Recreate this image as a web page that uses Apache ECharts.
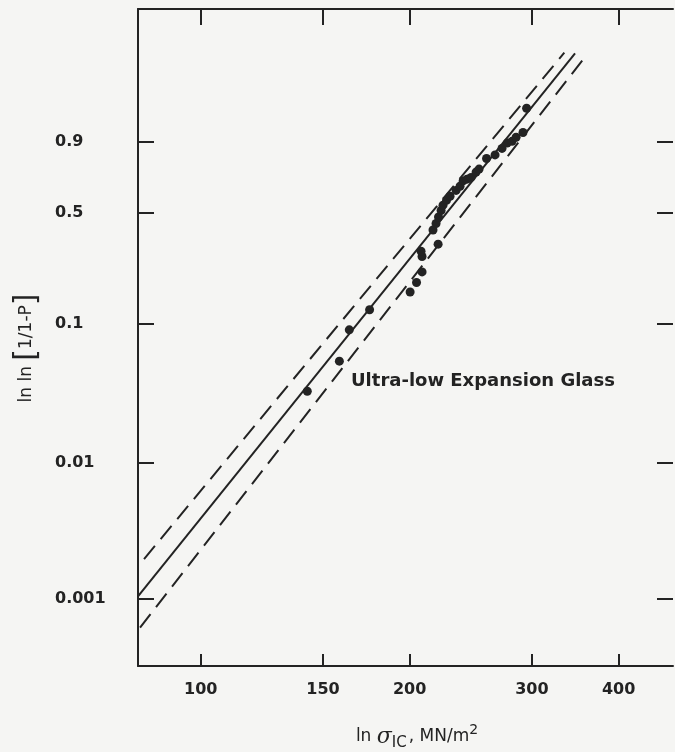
<!DOCTYPE html>
<html><head><meta charset="utf-8">
<script src="https://cdn.jsdelivr.net/npm/echarts@6/dist/echarts.min.js"></script>
<style>html,body{margin:0;padding:0;background:#f5f5f3;} #c{width:675px;height:752px;}</style>
</head><body><div id="c"></div>
<script>
// Fracture stress of each specimen, MN/m^2
const stress = [142.4,158.4,163.7,175.1,200.3,204.6,208.4,208.4,207.7,219.8,216.1,218.3,220.1,222.0,223.4,226.0,228.7,233.3,236.4,238.8,241.9,245.2,249.3,251.8,258.1,265.5,271.7,276.3,280.9,284.7,291.3,294.8];
// ln ln[1/(1-P)] of each specimen
const lnlnP = [-3.39,-2.88,-2.35,-2.01,-1.71,-1.55,-1.37,-1.11,-1.02,-0.90,-0.66,-0.55,-0.44,-0.33,-0.24,-0.16,-0.09,0.01,0.08,0.17,0.20,0.23,0.32,0.37,0.55,0.61,0.72,0.81,0.84,0.91,0.99,1.40];
// Fitted line and its two bounds (end points)
const fitStress = [81.2, 346.2];   const fitY = [-6.86, 2.33];
const upperStress = [82.85, 334.1]; const upperY = [-6.23, 2.34];
const lowerStress = [81.76, 354.7]; const lowerY = [-7.39, 2.21];
// Tick labels
const xTickStress = [100, 150, 200, 300, 400];
const yTickP = [0.9, 0.5, 0.1, 0.01, 0.001];

const toY = p => Math.log(-Math.log(1 - p));
const xTicks = xTickStress.map(v => Math.log(v));
const yTicks = yTickP.map(toY);
const pairs = (xs, ys) => xs.map((x, i) => [Math.log(x), ys[i]]);
const nearest = (arr, v) => { let b = 0; arr.forEach((a, i) => { if (Math.abs(a - v) < Math.abs(arr[b] - v)) b = i; }); return b; };

const ink = '#232323';
const font = 'DejaVu Sans';
const chart = echarts.init(document.getElementById('c'));
chart.setOption({
  backgroundColor: '#f5f5f3',
  animation: false,
  grid: { left: 138, right: 2, top: 9, bottom: 86 },
  xAxis: [{
    type: 'value', min: 4.397, max: 6.172, position: 'bottom',
    axisLine: { show: true, onZero: false, lineStyle: { color: ink, width: 2 } },
    axisTick: { show: true, inside: true, length: 12, customValues: xTicks, lineStyle: { color: ink, width: 2 } },
    axisLabel: { customValues: xTicks, margin: 16, color: ink, fontFamily: font, fontSize: 16, fontWeight: 'bold',
      formatter: v => String(xTickStress[nearest(xTicks, v)]) },
    splitLine: { show: false }
  }, {
    type: 'value', min: 4.397, max: 6.172, position: 'top',
    axisLine: { show: true, onZero: false, lineStyle: { color: ink, width: 2 } },
    axisTick: { show: true, inside: true, length: 16, customValues: xTicks, lineStyle: { color: ink, width: 2 } },
    axisLabel: { show: false }, splitLine: { show: false }
  }],
  yAxis: [{
    type: 'value', min: -8.04, max: 3.08, position: 'left',
    axisLine: { show: true, onZero: false, lineStyle: { color: ink, width: 2 } },
    axisTick: { show: true, inside: true, length: 16, customValues: yTicks, lineStyle: { color: ink, width: 2 } },
    axisLabel: { customValues: yTicks, margin: 83, align: 'left', color: ink, fontFamily: font, fontSize: 16, fontWeight: 'bold',
      formatter: v => String(yTickP[nearest(yTicks, v)]) },
    splitLine: { show: false }
  }, {
    type: 'value', min: -8.04, max: 3.08, position: 'right',
    axisLine: { show: false },
    axisTick: { show: true, inside: true, length: 16, customValues: yTicks, lineStyle: { color: ink, width: 2 } },
    axisLabel: { show: false }, splitLine: { show: false }
  }],
  graphic: [{
    type: 'text', left: 351, top: 372,
    style: { text: 'Ultra-low Expansion Glass', font: 'bold 18px "DejaVu Sans"', fill: ink }
  }, {
    type: 'text', x: 417, y: 737,
    style: {
      text: '{t|ln }{g|σ}{sub|IC}{t|, MN/m}{sup|2}', align: 'center', verticalAlign: 'middle',
      rich: {
        t: { fontFamily: font, fontSize: 17, fill: ink, lineHeight: 28, verticalAlign: 'middle' },
        g: { fontFamily: 'DejaVu Serif', fontStyle: 'italic', fontSize: 22, fill: ink, lineHeight: 28, verticalAlign: 'middle' },
        sub: { fontFamily: font, fontSize: 15, fill: ink, lineHeight: 28, verticalAlign: 'bottom', padding: [0, 2, 0, 0] },
        sup: { fontFamily: font, fontSize: 14, fill: ink, lineHeight: 28, verticalAlign: 'top' }
      }
    }
  }, {
    type: 'text', x: 27, y: 348, rotation: Math.PI / 2,
    style: {
      text: '{t|ln ln }{b|[}{t|1/1-P}{b|]}', align: 'center', verticalAlign: 'middle',
      rich: {
        t: { fontFamily: font, fontSize: 17, fill: ink, lineHeight: 30, verticalAlign: 'middle' },
        b: { fontFamily: font, fontSize: 30, fill: ink, lineHeight: 30, verticalAlign: 'middle' }
      }
    }
  }],
  series: [
    { type: 'line', data: pairs(fitStress, fitY), symbol: 'none', lineStyle: { color: ink, width: 2 } },
    { type: 'line', data: pairs(upperStress, upperY), symbol: 'none', lineStyle: { color: ink, width: 2, type: [17, 9] } },
    { type: 'line', data: pairs(lowerStress, lowerY), symbol: 'none', lineStyle: { color: ink, width: 2, type: [17, 9] } },
    { type: 'scatter', data: pairs(stress, lnlnP), symbolSize: 9, itemStyle: { color: ink, opacity: 1 } }
  ]
});
</script></body></html>
